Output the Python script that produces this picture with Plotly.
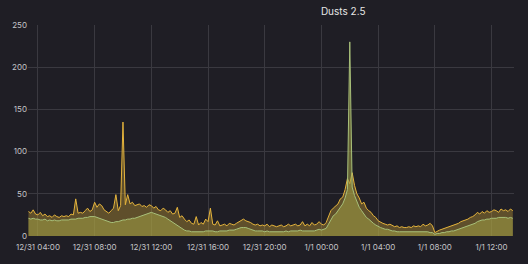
import pandas as pd
import plotly.graph_objects as go

start_time = "2019-12-31 03:20"
step = "10min"

# PM2.5 sensor A (yellow), 10-minute samples
dust_a = [
    29, 27, 31, 26,
    25, 28, 24, 26, 23, 24,
    22, 25, 23, 22, 24, 23,
    24, 23, 26, 25, 44, 27,
    28, 27, 30, 33, 29, 31,
    40, 34, 38, 36, 31, 29,
    27, 30, 33, 49, 30, 36,
    135, 37, 49, 38, 40, 36,
    37, 38, 35, 36, 34, 37,
    36, 33, 35, 31, 30, 33,
    31, 28, 30, 26, 27, 34,
    22, 24, 20, 17, 19, 15,
    14, 23, 13, 16, 14, 20,
    17, 33, 14, 13, 18, 12,
    13, 14, 12, 15, 14, 13,
    15, 17, 19, 20, 18, 17,
    16, 14, 13, 14, 12, 13,
    12, 14, 11, 13, 12, 11,
    12, 13, 11, 12, 14, 12,
    13, 14, 12, 13, 17, 12,
    14, 12, 16, 13, 14, 17,
    14, 13, 16, 22, 30, 33,
    36, 38, 44, 46, 55, 68,
    62, 75, 60, 50, 45, 38,
    40, 33, 30, 28, 24, 22,
    18, 16, 15, 14, 13, 14,
    12, 11, 12, 10, 11, 10,
    10, 11, 10, 12, 11, 12,
    11, 14, 12, 13, 15, 12,
    4, 6, 7, 8, 9, 10,
    11, 12, 13, 14, 15, 17,
    18, 19, 20, 22, 23, 25,
    28, 26, 29, 27, 30, 28,
    29, 31, 30, 28, 32, 30,
    31, 29, 32, 30,
]

# PM2.5 sensor B (green), 10-minute samples
dust_b = [
    21, 20, 21, 20,
    20, 19, 19, 20, 18, 19,
    18, 19, 18, 18, 19, 19,
    19, 19, 20, 20, 20, 21,
    21, 21, 22, 22, 23, 23,
    23, 22, 21, 20, 19, 18,
    17, 16, 16, 17, 17, 18,
    19, 19, 20, 20, 21, 21,
    22, 23, 24, 25, 26, 27,
    28, 27, 26, 25, 24, 23,
    22, 20, 18, 16, 14, 12,
    10, 8, 7, 6, 6, 5,
    5, 5, 5, 5, 5, 6,
    6, 6, 6, 5, 5, 6,
    6, 6, 6, 7, 7, 7,
    8, 9, 10, 10, 10, 9,
    8, 7, 6, 6, 6, 6,
    5, 6, 5, 5, 5, 5,
    5, 5, 5, 6, 5, 6,
    6, 6, 6, 7, 6, 6,
    6, 6, 6, 6, 7, 8,
    7, 8, 9, 14, 20, 24,
    26, 30, 33, 38, 45, 55,
    230, 58, 48, 40, 34, 30,
    26, 22, 20, 17, 15, 13,
    11, 10, 9, 8, 8, 7,
    6, 6, 5, 5, 5, 5,
    5, 5, 5, 5, 5, 5,
    5, 5, 5, 5, 4, 4,
    2, 3, 3, 4, 4, 5,
    5, 6, 6, 7, 8, 9,
    10, 11, 12, 13, 14, 15,
    17, 18, 19, 19, 20, 20,
    21, 21, 21, 22, 22, 22,
    22, 21, 22, 21,
]

tick_times = ["2019-12-31 04:00", "2019-12-31 08:00", "2019-12-31 12:00",
              "2019-12-31 16:00", "2019-12-31 20:00", "2020-01-01 00:00",
              "2020-01-01 04:00", "2020-01-01 08:00", "2020-01-01 12:00"]
tick_labels = ["12/31 04:00", "12/31 08:00", "12/31 12:00", "12/31 16:00",
               "12/31 20:00", "1/1 00:00", "1/1 04:00", "1/1 08:00", "1/1 12:00"]
y_ticks = [0, 50, 100, 150, 200, 250]

times = pd.date_range(start_time, periods=len(dust_a), freq=step)

fig = go.Figure()
fig.add_trace(go.Scatter(
    x=times, y=dust_a, mode="lines", fill="tozeroy",
    line=dict(color="#E5B43C", width=1),
    fillcolor="rgba(200,160,55,0.38)", name="A",
))
fig.add_trace(go.Scatter(
    x=times, y=dust_b, mode="lines", fill="tozeroy",
    line=dict(color="#A8C07A", width=1),
    fillcolor="rgba(160,160,70,0.55)", name="B",
))

fig.update_layout(
    width=528, height=264,
    paper_bgcolor="#1f1e25", plot_bgcolor="#1f1e25",
    margin=dict(l=25, r=14, t=25, b=28),
    showlegend=False,
    title=dict(text="Dusts 2.5", x=0.65, xanchor="center", y=0.955, yanchor="middle",
               font=dict(family="Inter, Roboto, sans-serif", size=10, color="#e6e6e6")),
    font=dict(family="Inter, Roboto, sans-serif", size=8, color="#c4c4c8"),
    shapes=[dict(type="rect", xref="paper", yref="paper", x0=-0.1, x1=1.1,
                 y0=-0.135, y1=-0.3, fillcolor="#141318", line=dict(width=0),
                 layer="below")],
)
fig.update_xaxes(
    range=[times[0] - pd.Timedelta(minutes=2), times[-1] + pd.Timedelta(minutes=5)],
    tickvals=pd.to_datetime(tick_times), ticktext=tick_labels,
    showgrid=True, gridcolor="#3a3940", gridwidth=1, zeroline=False,
    showline=False, ticks="", ticklabelstandoff=5,
    tickfont=dict(size=8, color="#c4c4c8"),
)
fig.update_yaxes(
    range=[0, 250], tickvals=y_ticks,
    showgrid=True, gridcolor="#3a3940", gridwidth=1, zeroline=False,
    showline=False, ticks="", tickfont=dict(size=8, color="#c4c4c8"),
)

fig.write_html("out.html")
